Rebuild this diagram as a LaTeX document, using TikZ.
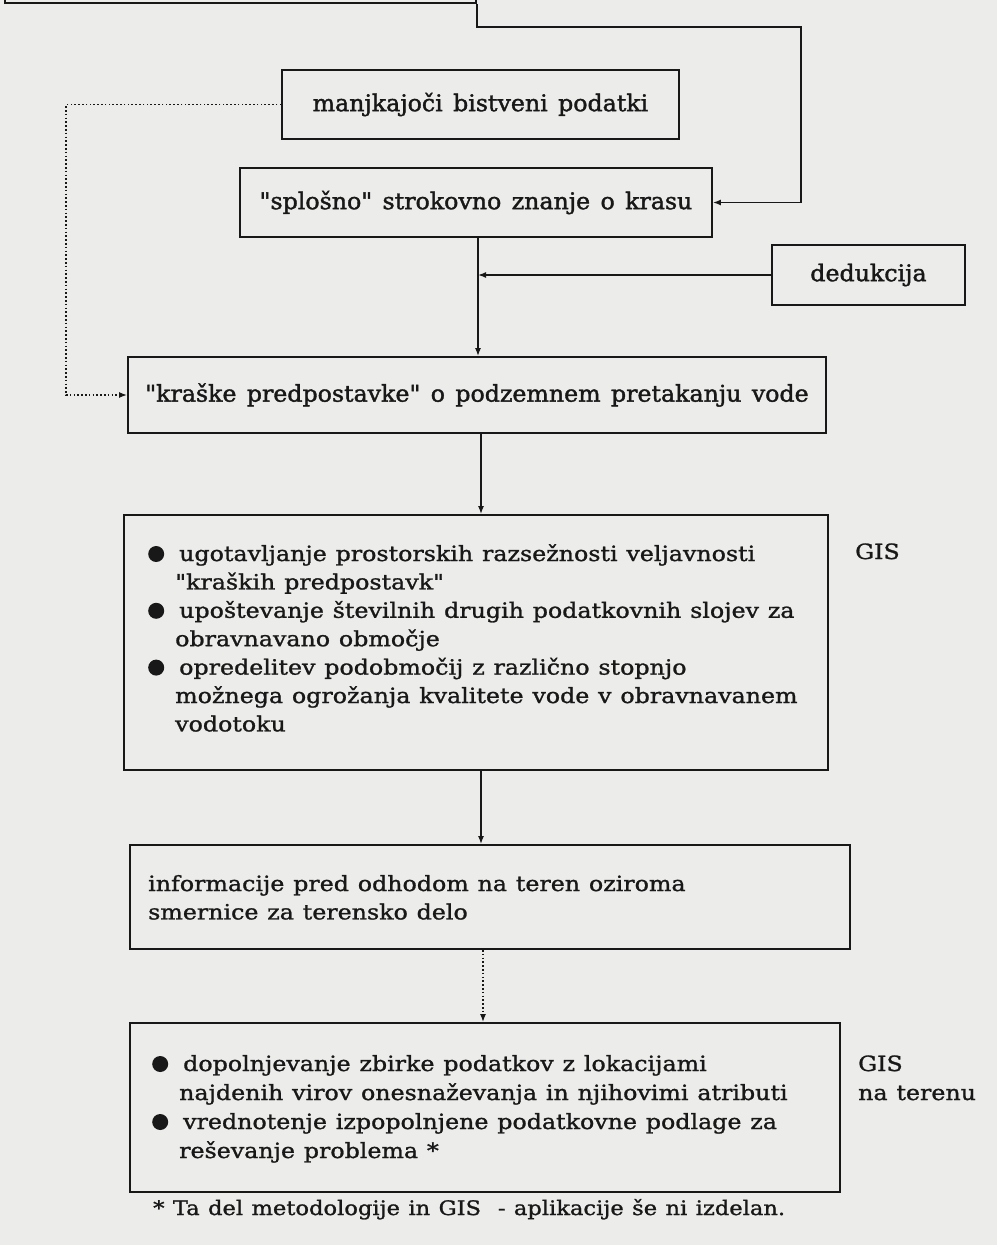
\documentclass[tikz,border=0pt]{standalone}
\usepackage{fontspec}
\setmainfont{DejaVu Serif}
\newfontfamily\topfont[FakeStretch=1.03,FakeBold=1.6]{DejaVu Serif}
\newfontfamily\lowfont[FakeStretch=1.13,FakeBold=1.2]{DejaVu Serif}
\usetikzlibrary{arrows.meta,calc}
\definecolor{paper}{RGB}{236,236,234}
\definecolor{ink}{RGB}{24,24,24}
\newcommand\topsetup{\topfont\fontsize{23}{28}\selectfont\spaceskip=0.45em plus 0.1em\relax}
\newcommand\lowsetup{\lowfont\fontsize{21}{28.4}\selectfont\spaceskip=0.42em plus 0.1em\relax}
\newcommand\notesetup{\lowfont\fontsize{20}{26}\selectfont\spaceskip=0.42em plus 0.1em\relax}
\newcommand\bul{\tikz[baseline=0pt]\fill[ink] (0pt,7pt) circle[radius=8pt];}
\newcommand\bline[1]{\hbox{\hspace{4pt}\llap{\bul\hspace{15pt}}#1}}
\begin{document}
\begin{tikzpicture}[x=1pt,y=-1pt,
  box/.style={draw=ink,line width=1.8pt,inner sep=0pt,text=ink},
  toptext/.style={font={\topsetup}},
  lowtext/.style={font={\lowsetup},text=ink,inner sep=0pt},
  notetext/.style={font={\notesetup},text=ink,inner sep=0pt},
  conn/.style={draw=ink,line width=1.5pt,-{Latex[length=8pt,width=6pt]}},
  dotconn/.style={conn,dash pattern=on 1.6pt off 2.2pt}]
\fill[paper] (0,0) rectangle (997,1245);
\useasboundingbox (0,0) rectangle (997,1245);
% boxes
\node[box,minimum width=471pt,minimum height=50pt] (top) at (240.5,-22) {};
\node[box,toptext,minimum width=397pt,minimum height=69pt] (manj) at (480.5,104.5) {manjkajoči bistveni podatki};
\node[box,toptext,minimum width=472pt,minimum height=69pt] (splosno) at (476,202.5) {"splošno" strokovno znanje o krasu};
\node[box,toptext,minimum width=193pt,minimum height=60pt] (ded) at (868.5,275) {dedukcija};
\node[box,toptext,minimum width=698pt,minimum height=76pt] (kraske) at (477,395) {"kraške predpostavke" o podzemnem pretakanju vode};
\node[box,minimum width=704pt,minimum height=255pt] (gisbox) at (476,642.5) {};
\node[lowtext,anchor=base west] (gistext) at (175,561) {\vtop{%
  \bline{ugotavljanje prostorskih razsežnosti veljavnosti}
  \hbox{"kraških predpostavk"}
  \bline{upoštevanje številnih drugih podatkovnih slojev za}
  \hbox{obravnavano območje}
  \bline{opredelitev podobmočij z različno stopnjo}
  \hbox{možnega ogrožanja kvalitete vode v obravnavanem}
  \hbox{vodotoku}}};
\node[lowtext,anchor=base west] (gislab) at (855,559) {GIS};
\node[box,minimum width=720pt,minimum height=104pt] (info) at (490,897) {};
\node[lowtext,anchor=base west] (infotext) at (148,891) {\vtop{%
  \hbox{informacije pred odhodom na teren oziroma}
  \hbox{smernice za terensko delo}}};
\node[box,minimum width=710pt,minimum height=169pt] (last) at (485,1107.5) {};
\node[lowtext,anchor=base west] (lasttext) at (179,1071) {\vtop{\baselineskip=29pt
  \bline{dopolnjevanje zbirke podatkov z lokacijami}
  \hbox{najdenih virov onesnaževanja in njihovimi atributi}
  \bline{vrednotenje izpopolnjene podatkovne podlage za}
  \hbox{reševanje problema *}}};
\node[lowtext,anchor=base west] (gislab2) at (858,1071) {\vtop{\baselineskip=29pt
  \hbox{GIS}
  \hbox{na terenu}}};
\node[notetext,anchor=base west] (note) at (153,1215) {* Ta del metodologije in GIS\ \ -\ aplikacije še ni izdelan.};
% connectors
\coordinate (c1) at (801,27);
\draw[conn] (top.south east) |- (c1) |- (splosno.east);
\draw[dotconn] (manj.west) -- ++(-215,0) |- (kraske.west);
\coordinate (sv) at ([xshift=2pt]splosno.south);
\draw[conn] (sv) -- (sv |- kraske.north);
\draw[conn] (ded.west) -- (ded.west -| sv);
\coordinate (k1) at ([xshift=4pt]kraske.south);
\draw[conn] (k1) -- (k1 |- gisbox.north);
\coordinate (g1) at ([xshift=5pt]gisbox.south);
\draw[conn] (g1) -- (g1 |- info.north);
\coordinate (i1) at ([xshift=-7pt]info.south);
\draw[dotconn] (i1) -- (i1 |- last.north);
\end{tikzpicture}
\end{document}
